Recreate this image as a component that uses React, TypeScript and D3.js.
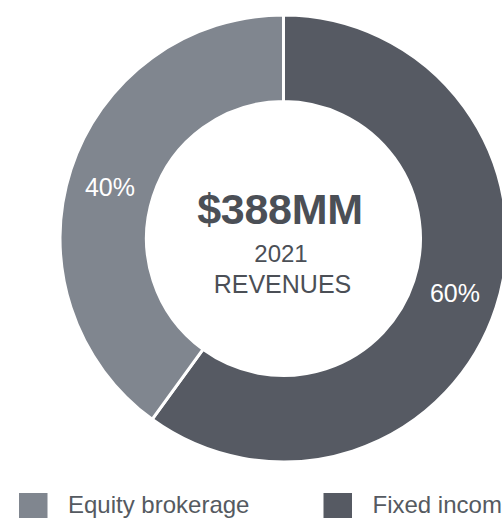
import React from "react";
import * as d3 from "d3";

const categories = ["Fixed income", "Equity brokerage"];
const values = [60, 40];
const colors = ["#565a63", "#80868f"];
const labels = ["60%", "40%"];
const legendOrder = ["Equity brokerage", "Fixed income"];
const centerTitle = "$388MM";
const centerSub = ["2021", "REVENUES"];

export default function App() {
  const W = 502, H = 518;
  const cx = 283.5, cy = 238.5;
  const rOuter = 223.5, rInner = 137;
  const pie = d3.pie<number>().sort(null).value((d) => d)(values);
  const arc = d3.arc<d3.PieArcDatum<number>>().innerRadius(rInner).outerRadius(rOuter);
  const labelPos = [
    { x: 455, y: 302 },
    { x: 110, y: 196 },
  ];
  const legendX = [19, 323.5];
  const colorOf = (c: string) => colors[categories.indexOf(c)];
  return (
    <svg
      width={W}
      height={H}
      style={{ position: "absolute", left: 0, top: 0, fontFamily: "'Liberation Sans', Arial, sans-serif" }}
    >
      <rect width={W} height={H} fill="#fff" />
      <g transform={`translate(${cx},${cy})`}>
        {pie.map((p, i) => (
          <path key={i} d={arc(p) || ""} fill={colors[i]} stroke="#fff" strokeWidth={3} />
        ))}
      </g>
      {labels.map((l, i) => (
        <text key={i} x={labelPos[i].x} y={labelPos[i].y} fill="#fff" fontSize={25} textAnchor="middle">
          {l}
        </text>
      ))}
      <text x={280} y={224} fontSize={43} fontWeight="bold" fill="#4b4f56" textAnchor="middle" letterSpacing={-0.3}>
        {centerTitle}
      </text>
      <text x={281} y={262} fontSize={24} fill="#4b4f56" textAnchor="middle">
        {centerSub[0]}
      </text>
      <text x={282.5} y={293} fontSize={25} fill="#4b4f56" textAnchor="middle">
        {centerSub[1]}
      </text>
      {legendOrder.map((c, i) => (
        <g key={c}>
          <rect x={legendX[i]} y={493} width={28.5} height={28} fill={colorOf(c)} />
          <text x={legendX[i] + 49} y={513} fontSize={24} fill="#555a61">
            {c}
          </text>
        </g>
      ))}
    </svg>
  );
}
